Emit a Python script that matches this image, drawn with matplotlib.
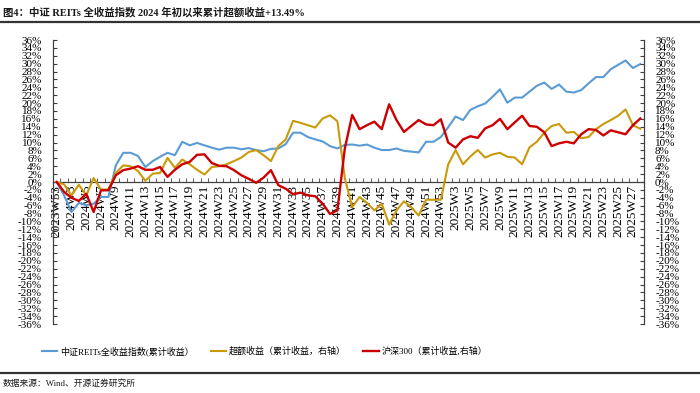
import matplotlib
matplotlib.use('Agg')
import matplotlib.pyplot as plt
from matplotlib.lines import Line2D
import numpy as np

plt.rcParams['font.family'] = ['Liberation Serif', 'Noto Sans CJK SC', 'DejaVu Sans']
plt.rcParams['axes.unicode_minus'] = False

weeks = ["2023W53"] + [f"2024W{w}" for w in range(2, 54)] + [f"2025W{w}" for w in range(2, 29)]

reits = [0, -3.4, -7.6, -5.3, -5.9, -5.5, -3.8, -3.8, 4.2, 7.4,
         7.4, 6.6, 3.8, 5.3, 6.4, 7.4, 6.8, 10.2, 9.3, 9.9,
         9.3, 8.7, 8.2, 8.7, 8.7, 8.3, 8.6, 8.1, 7.8, 8.4,
         8.5, 9.6, 12.5, 12.5, 11.4, 10.8, 10.3, 9.1, 8.5, 9.4,
         9.5, 9.2, 9.5, 8.7, 8.1, 8.1, 8.5, 7.9, 7.7, 7.5,
         10.2, 10.2, 11.4, 13.9, 16.6, 15.7, 18.3, 19.2, 19.9, 21.6,
         23.5, 20.1, 21.4, 21.4, 22.9, 24.4, 25.2, 23.6, 24.7, 22.9,
         22.7, 23.3, 25.0, 26.6, 26.6, 28.6, 29.7, 30.8, 28.9, 29.9]

excess = [0, -0.6, -3.4, -0.7, -3.4, 1.0, -1.9, -1.9, 2.3, 4.2,
          4.0, 2.8, 0.3, 2.1, 2.3, 6.1, 3.6, 5.7, 4.5, 3.1,
          1.9, 3.8, 4.0, 4.5, 5.3, 6.2, 7.6, 8.1, 6.8, 5.3,
          9.1, 10.8, 15.5, 15.0, 14.4, 13.8, 16.1, 16.9, 15.4, 1.0,
          -6.4, -3.8, -5.3, -7.2, -5.5, -10.8, -7.2, -4.9, -6.4, -8.5,
          -4.5, -4.5, -4.5, 4.5, 8.1, 4.5, 6.5, 8.1, 6.2, 7.0,
          7.4, 6.4, 6.2, 4.5, 8.8, 10.2, 12.5, 14.2, 14.7, 12.5,
          12.7, 11.1, 11.4, 13.4, 14.7, 15.7, 16.8, 18.4, 14.4, 13.49]

hs300 = [0, -2.5, -4.0, -4.8, -3.0, -7.6, -2.1, -2.1, 1.7, 3.0,
         3.4, 4.0, 3.1, 3.1, 3.8, 1.3, 3.1, 4.5, 5.1, 6.9,
         7.0, 4.8, 4.1, 4.0, 3.0, 1.7, 0.8, -0.2, 1.1, 3.0,
         -0.8, -1.7, -3.1, -2.7, -3.4, -3.6, -5.5, -8.1, -7.2, 8.5,
         17.0, 13.4, 14.4, 15.3, 13.4, 19.7, 15.7, 12.7, 14.2, 15.7,
         14.6, 14.4, 15.9, 10.0, 8.7, 10.8, 11.6, 11.2, 13.6, 14.4,
         16.0, 13.4, 15.1, 16.8, 14.2, 14.0, 12.6, 9.1, 9.8, 10.2,
         9.8, 12.1, 13.4, 13.2, 11.8, 13.1, 12.6, 12.1, 14.4, 16.1]

yticks = list(range(-36, 37, 2))
ytick_labels = [f"{v}%" for v in yticks]

title = "图4：中证 REITs 全收益指数 2024 年初以来累计超额收益+13.49%"
legend_labels = ["中证REITs全收益指数(累计收益）", "超额收益（累计收益，右轴）", "沪深300（累计收益,右轴）"]
source = "数据来源：Wind、开源证券研究所"

c_blue = '#5B9BD5'
c_gold = '#C99A0A'
c_red = '#CC0000'
axis_c = '#404040'

fig = plt.figure(figsize=(7.0, 3.93), dpi=100)
ax = fig.add_axes([53/700, 1-324/393, (644-53)/700, (324-40)/393])
ax2 = ax.twinx()

x = np.arange(len(weeks))
l1, = ax.plot(x, reits, color=c_blue, lw=1.5, zorder=3)
l2, = ax2.plot(x, excess, color=c_gold, lw=1.5, zorder=3)
l3, = ax2.plot(x, hs300, color=c_red, lw=1.7, zorder=4)

for a in (ax, ax2):
    a.set_ylim(-36, 36)
    a.set_yticks(yticks)
    a.set_yticklabels(ytick_labels)
    a.set_xlim(-0.5, len(weeks) - 0.5)
    a.patch.set_visible(False)

ax.spines['top'].set_visible(False)
ax.spines['right'].set_visible(False)
ax.spines['bottom'].set_position(('data', 0))
ax2.spines['top'].set_visible(False)
ax2.spines['left'].set_visible(False)
ax2.spines['bottom'].set_visible(False)
for a in (ax, ax2):
    for s in a.spines.values():
        s.set_color(axis_c)
        s.set_linewidth(0.9)

ax.set_xticks(x[::2])
ax.set_xticklabels(weeks[::2], rotation=90, fontsize=9.5)
ax.set_xticks(np.arange(-0.5, len(weeks), 1), minor=True)
ax.tick_params(axis='x', which='major', length=0, pad=2)
ax.tick_params(axis='x', which='minor', length=3, direction='in', color=axis_c)
ax.tick_params(axis='y', direction='in', length=3, pad=8, labelsize=8, color=axis_c)
ax2.tick_params(axis='y', direction='in', length=3, pad=8, labelsize=8, color=axis_c)
for lab in ax.get_xticklabels():
    lab.set_va('top')

fig.text(0.004, 1-12/393, title, fontsize=7.5, fontweight='bold', color='#1a1a1a', va='center', ha='left')
fig.add_artist(Line2D([0, 1], [1-21.5/393, 1-21.5/393], transform=fig.transFigure, color='#333333', lw=1.6))
fig.add_artist(Line2D([0, 1], [1-373/393, 1-373/393], transform=fig.transFigure, color='#333333', lw=1.6))
fig.text(0.004, 1-383/393, source, fontsize=6.3, color='#1a1a1a', va='center', ha='left')

fig.legend([l1, l2, l3], legend_labels, loc='center left', bbox_to_anchor=(42/700, 1-351/393),
           ncol=3, frameon=False, fontsize=6.5, handlelength=1.7, handletextpad=0.3,
           columnspacing=1.9, borderpad=0, borderaxespad=0)

fig.savefig('out.png', dpi=100)
